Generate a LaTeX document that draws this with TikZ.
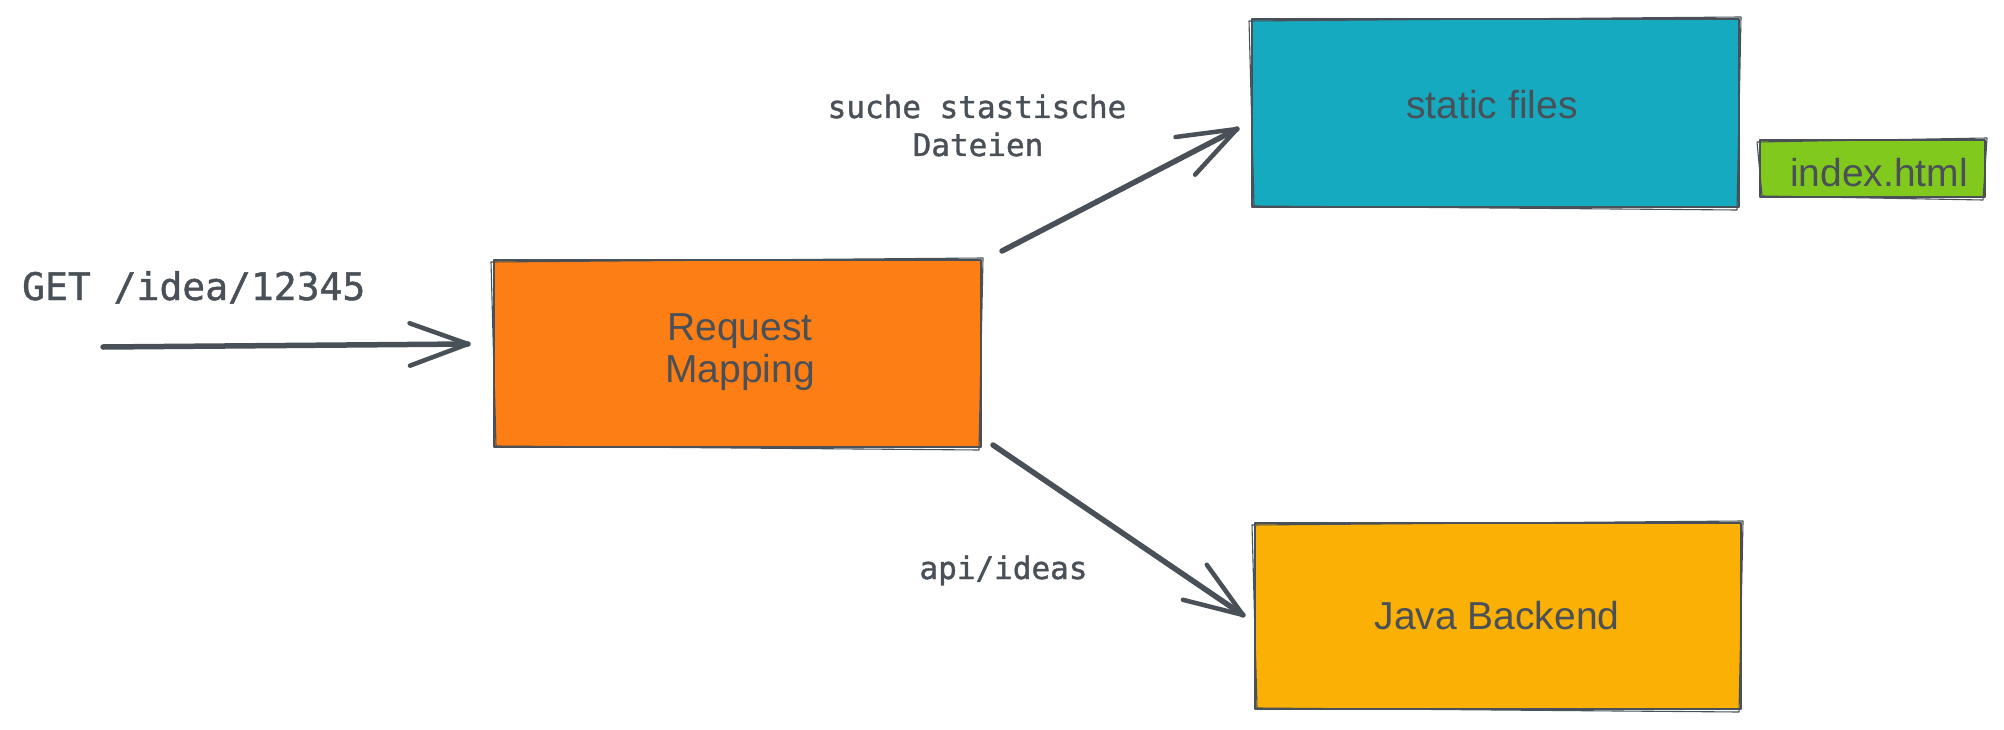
\documentclass[tikz,border=0pt]{standalone}
\usepackage{fontspec}
\setmainfont{Liberation Sans}
\newfontfamily\monofnt[FakeBold=1.2]{DejaVu Sans Mono}
\usetikzlibrary{calc}
\definecolor{ink}{HTML}{495057}
\definecolor{orangeF}{HTML}{FD7E14}
\definecolor{cyanF}{HTML}{15AABF}
\definecolor{yellowF}{HTML}{FAB005}
\definecolor{greenF}{HTML}{82C91E}
\newcommand\roughout[1]{%
  \draw[sk] ([shift={(-3,2)}]#1.north west) -- ([shift={(2,-2)}]#1.north east)
    -- ([shift={(-2,3)}]#1.south east) -- ([shift={(2,-1)}]#1.south west) -- cycle;}
\newcommand\barbs[2]{%
  \draw[barb] ($(#1)!62pt!20:(#2)$) -- (#1) -- ($(#1)!62pt!-20:(#2)$);}
\begin{document}
\begin{tikzpicture}[x=1pt,y=-1pt,
  box/.style={draw=ink, line width=2.6pt, inner sep=0pt, outer sep=0pt, line join=round},
  sk/.style={draw=ink, line width=1.1pt, line join=round},
  boxtxt/.style={text=ink, font=\fontsize{39}{42}\selectfont, inner sep=0pt, anchor=base},
  lbl/.style={text=ink, font=\monofnt\fontsize{31}{38}\selectfont, inner sep=0pt, align=center},
  arr/.style={draw=ink, line width=5.5pt, line cap=round},
  barb/.style={draw=ink, line width=4.5pt, line cap=round, line join=round}]
\useasboundingbox[fill=white] (0,0) rectangle (2004,730);
% boxes
\node[box, fill=orangeF, minimum width=487pt, minimum height=187pt] (rm) at (737.5,353.5) {};
\node[box, fill=cyanF, minimum width=487pt, minimum height=188pt] (sf) at (1495.5,113) {};
\node[box, fill=yellowF, minimum width=486pt, minimum height=186pt] (jb) at (1498,616) {};
\node[box, fill=greenF, minimum width=225pt, minimum height=57pt] (ix) at (1872.5,168.5) {};
\roughout{rm}
\roughout{sf}
\roughout{jb}
\roughout{ix}
% box texts
\node[boxtxt] (rmt1) at (740,340) {Request};
\node[boxtxt] (rmt2) at (740,382) {Mapping};
\node[boxtxt] (sft) at (1492,119) {static files};
\node[boxtxt] (jbt) at (1497,629) {Java Backend};
\node[boxtxt] (ixt) at (1879,186) {index.html};
% labels
\node[lbl, anchor=base west] (get) at (22,300) {\fontsize{38}{42}\selectfont GET /idea/12345};
\node[lbl, anchor=base] (l1) at (977,118) {suche stastische};
\node[lbl, anchor=base] (l2) at (978,156) {Dateien};
\node[lbl, anchor=base] (l3) at (1003.5,579) {api/ideas};
% connectors
\coordinate (src) at (103,347);
\coordinate (a1e) at ([shift={(-26,-9.5)}]rm.west);
\coordinate (a2s) at ([shift={(21,-9)}]rm.north east);
\coordinate (a2e) at ([shift={(-15,16)}]sf.west);
\coordinate (a3s) at ([shift={(12,-2)}]rm.south east);
\coordinate (a3e) at ([shift={(-12,-1)}]jb.west);
\draw[arr] (src) -- (a1e);
\barbs{a1e}{src}
\draw[arr] (a2s) -- (a2e);
\barbs{a2e}{a2s}
\draw[arr] (a3s) -- (a3e);
\barbs{a3e}{a3s}
\end{tikzpicture}
\end{document}
